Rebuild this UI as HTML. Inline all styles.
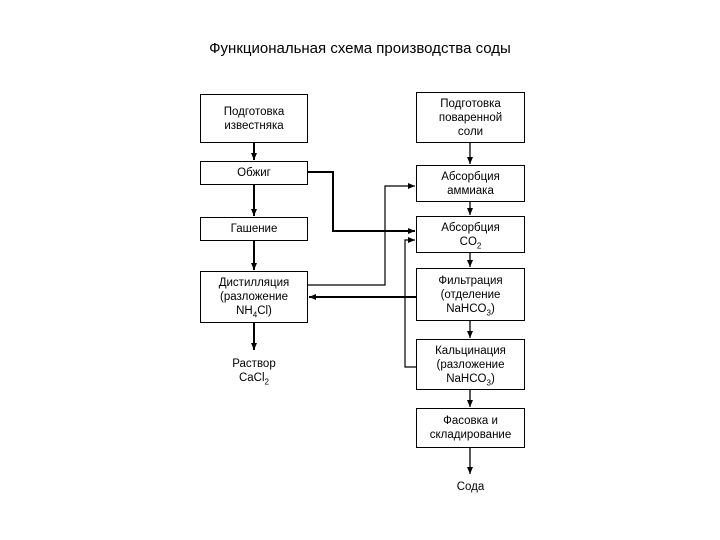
<!DOCTYPE html>
<html><head><meta charset="utf-8"><style>
body{margin:0;background:#fff;width:720px;height:540px;overflow:hidden;font-family:"Liberation Sans",sans-serif}
.t{position:absolute;font-size:11.5px;text-align:center;line-height:14px;color:#000}
.b{position:absolute;border:1.3px solid #000;box-sizing:border-box;display:flex;align-items:center;justify-content:center;text-align:center;font-size:11.5px;line-height:14px}
.b>div{width:100%}
sub{font-size:8px;line-height:0}
</style></head><body>
<div class="t" style="left:0;width:720px;top:42px;font-size:15px">Функциональная схема производства соды</div>
<svg width="720" height="540" style="position:absolute;left:0;top:0">
<defs><marker id="a" markerWidth="8" markerHeight="8" refX="7" refY="4" orient="auto" markerUnits="userSpaceOnUse"><path d="M0,1 L7,4 L0,7z"/></marker></defs>
<g stroke="#000" fill="none">
<line x1="254" y1="143" x2="254" y2="160" stroke-width="2" marker-end="url(#a)"/>
<line x1="254" y1="185" x2="254" y2="216" stroke-width="2" marker-end="url(#a)"/>
<line x1="254" y1="241" x2="254" y2="270" stroke-width="2" marker-end="url(#a)"/>
<line x1="254" y1="323" x2="254" y2="350" stroke-width="2" marker-end="url(#a)"/>
<line x1="470" y1="143" x2="470" y2="164" stroke-width="1.3" marker-end="url(#a)"/>
<line x1="470" y1="202" x2="470" y2="215" stroke-width="1.3" marker-end="url(#a)"/>
<line x1="470" y1="253" x2="470" y2="267" stroke-width="1.3" marker-end="url(#a)"/>
<line x1="470" y1="321" x2="470" y2="338" stroke-width="1.3" marker-end="url(#a)"/>
<line x1="470" y1="390" x2="470" y2="407" stroke-width="1.3" marker-end="url(#a)"/>
<line x1="470" y1="448" x2="470" y2="474" stroke-width="1.3" marker-end="url(#a)"/>
<polyline points="307,172 333,172 333,231 415,231" stroke-width="2" marker-end="url(#a)"/>
<polyline points="307,285 385,285 385,186 415,186" stroke-width="1.2" marker-end="url(#a)"/>
<line x1="416" y1="297" x2="309" y2="297" stroke-width="2" marker-end="url(#a)"/>
<polyline points="416,367 405,367 405,240 415,240" stroke-width="1.2" marker-end="url(#a)"/>
</g></svg>
<div class="b" style="left:200px;top:94px;width:108px;height:49px"><div>Подготовка<br>известняка</div></div>
<div class="b" style="left:200px;top:161px;width:108px;height:24px"><div>Обжиг</div></div>
<div class="b" style="left:200px;top:217px;width:108px;height:24px"><div>Гашение</div></div>
<div class="b" style="left:200px;top:271px;width:108px;height:52px"><div>Дистилляция<br>(разложение<br>NH<sub>4</sub>Cl)</div></div>
<div class="t" style="left:200px;width:108px;top:357px">Раствор<br>CaCl<sub>2</sub></div>
<div class="b" style="left:416px;top:92px;width:109px;height:51px"><div>Подготовка<br>поваренной<br>соли</div></div>
<div class="b" style="left:416px;top:165px;width:109px;height:37px"><div>Абсорбция<br>аммиака</div></div>
<div class="b" style="left:416px;top:216px;width:109px;height:37px"><div>Абсорбция<br>CO<sub>2</sub></div></div>
<div class="b" style="left:416px;top:268px;width:109px;height:53px"><div>Фильтрация<br>(отделение<br>NaHCO<sub>3</sub>)</div></div>
<div class="b" style="left:416px;top:339px;width:109px;height:51px"><div>Кальцинация<br>(разложение<br>NaHCO<sub>3</sub>)</div></div>
<div class="b" style="left:416px;top:408px;width:109px;height:40px"><div>Фасовка и<br>складирование</div></div>
<div class="t" style="left:416px;width:109px;top:480px">Сода</div>
</body></html>
